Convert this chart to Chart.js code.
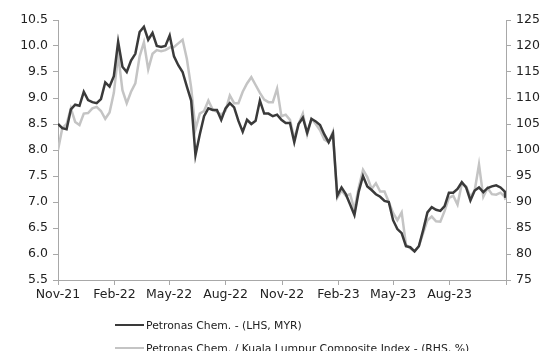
<!DOCTYPE html>
<html>
<head>
<meta charset="utf-8">
<script src="https://cdn.jsdelivr.net/npm/chart.js@4/dist/chart.umd.min.js"></script>
<style>
  html, body { margin: 0; padding: 0; background: #fff; }
  #wrap { position: relative; width: 555px; height: 351px; overflow: hidden; }
  #c { position: absolute; left: 0; top: 0; }
  .leg { position: absolute; left: 115px; height: 16px; font-family: "DejaVu Sans", sans-serif; font-size: 10.8px; color: #222; white-space: nowrap; display: flex; align-items: center; }
  .leg .ln { width: 29px; height: 2.5px; margin-right: 2px; }
</style>
</head>
<body>
<div id="wrap">
  <canvas id="c" width="555" height="351"></canvas>
  <div class="leg" style="top:317px"><span class="ln" style="background:#3a3a3a"></span><span id="l0"></span></div>
  <div class="leg" style="top:340px"><span class="ln" style="background:#c4c4c4"></span><span id="l1"></span></div>
</div>
<script>
const seriesNames = ["Petronas Chem. - (LHS, MYR)", "Petronas Chem. / Kuala Lumpur Composite Index - (RHS, %)"];

const dates = [
"2021-11-01","2021-11-08","2021-11-15","2021-11-22","2021-11-29","2021-12-06","2021-12-13","2021-12-20","2021-12-27",
"2022-01-03","2022-01-10","2022-01-17","2022-01-24","2022-01-31","2022-02-07","2022-02-14","2022-02-21","2022-02-28",
"2022-03-07","2022-03-14","2022-03-21","2022-03-28","2022-04-04","2022-04-11","2022-04-18","2022-04-25",
"2022-05-02","2022-05-09","2022-05-16","2022-05-23","2022-05-30","2022-06-06","2022-06-13","2022-06-20","2022-06-27",
"2022-07-04","2022-07-11","2022-07-18","2022-07-25","2022-08-01","2022-08-08","2022-08-15","2022-08-22","2022-08-29",
"2022-09-05","2022-09-12","2022-09-19","2022-09-26","2022-10-03","2022-10-10","2022-10-17","2022-10-24","2022-10-31",
"2022-11-07","2022-11-14","2022-11-21","2022-11-28","2022-12-05","2022-12-12","2022-12-19","2022-12-26",
"2023-01-02","2023-01-09","2023-01-16","2023-01-23","2023-01-30","2023-02-06","2023-02-13","2023-02-20","2023-02-27",
"2023-03-06","2023-03-13","2023-03-20","2023-03-27","2023-04-03","2023-04-10","2023-04-17","2023-04-24",
"2023-05-01","2023-05-08","2023-05-15","2023-05-22","2023-05-29","2023-06-05","2023-06-12","2023-06-19","2023-06-26",
"2023-07-03","2023-07-10","2023-07-17","2023-07-24","2023-07-31","2023-08-07","2023-08-14","2023-08-21","2023-08-28",
"2023-09-04","2023-09-11","2023-09-18","2023-09-25","2023-10-02","2023-10-09","2023-10-16","2023-10-23","2023-10-30","2023-10-31"
];

const price = [
8.50,8.42,8.40,8.78,8.87,8.85,9.12,8.96,8.92,8.90,
8.98,9.30,9.22,9.42,10.08,9.60,9.50,9.72,9.85,10.27,
10.37,10.12,10.25,10.00,9.98,10.00,10.20,9.80,9.63,9.50,
9.22,8.95,7.90,8.30,8.65,8.80,8.77,8.77,8.58,8.80,
8.90,8.82,8.56,8.35,8.58,8.50,8.56,8.95,8.70,8.70,
8.65,8.68,8.58,8.52,8.52,8.15,8.50,8.62,8.33,8.60,
8.55,8.48,8.30,8.15,8.32,7.12,7.28,7.15,6.95,6.75,
7.20,7.50,7.30,7.23,7.15,7.10,7.02,7.00,6.65,6.48,
6.40,6.15,6.13,6.05,6.15,6.46,6.80,6.90,6.85,6.83,
6.92,7.18,7.18,7.25,7.38,7.28,7.03,7.22,7.28,7.19,
7.27,7.30,7.32,7.28,7.20,7.08
];

const relative = [
100.0,104.2,105.0,108.0,105.4,104.8,107.0,107.1,108.0,108.3,
107.5,106.0,107.2,111.0,118.3,111.5,109.0,111.2,112.8,118.0,
120.7,115.5,118.5,119.2,119.0,119.2,119.7,119.8,120.5,121.2,
117.5,112.0,104.0,107.0,107.5,109.5,107.8,107.3,106.8,107.6,
110.5,109.0,109.0,111.2,112.8,114.0,112.5,111.0,109.7,109.2,
109.2,111.8,106.5,106.8,105.8,102.2,105.0,107.0,103.0,106.0,
105.0,103.8,102.0,101.5,103.5,90.8,92.2,91.2,91.5,88.5,
92.8,96.2,94.8,92.5,93.6,92.0,92.0,90.0,87.9,86.5,
88.0,81.8,81.1,80.5,81.5,84.0,86.5,87.2,86.3,86.2,
88.3,90.8,91.2,89.5,93.5,93.0,91.0,92.2,97.2,91.0,
92.7,91.5,91.4,91.8,91.0,90.4
];

const tickDates = ["2021-11-01","2022-02-01","2022-05-01","2022-08-01","2022-11-01","2023-02-01","2023-05-01","2023-08-01","2023-11-01"];
const tickLabels = ["Nov-21","Feb-22","May-22","Aug-22","Nov-22","Feb-23","May-23","Aug-23",""];

const DAY = 86400000;
const t0 = Date.parse(dates[0]);
const dayOf = d => (Date.parse(d) - t0) / DAY;
const tickDays = tickDates.map(dayOf);

document.getElementById('l0').textContent = seriesNames[0];
document.getElementById('l1').textContent = seriesNames[1];

const font = { family: "DejaVu Sans", size: 12.5 };
const axisColor = '#a8a8a8';
const txt = '#222';

new Chart(document.getElementById('c'), {
  type: 'line',
  data: {
    datasets: [
      { label: seriesNames[0], data: dates.map((d, i) => ({ x: dayOf(d), y: price[i] })), yAxisID: 'y',
        borderColor: '#3a3a3a', borderWidth: 2.5, pointRadius: 0, tension: 0, fill: false },
      { label: seriesNames[1], data: dates.map((d, i) => ({ x: dayOf(d), y: relative[i] })), yAxisID: 'y1',
        borderColor: '#c4c4c4', borderWidth: 2.5, pointRadius: 0, tension: 0, fill: false }
    ]
  },
  options: {
    responsive: false,
    animation: false,
    layout: { padding: { top: 20, left: 0, right: 0, bottom: 0 } },
    plugins: { legend: { display: false }, tooltip: { enabled: false } },
    scales: {
      x: {
        type: 'linear', min: tickDays[0], max: tickDays[tickDays.length - 1],
        afterBuildTicks: s => { s.ticks = tickDays.map(v => ({ value: v })); },
        afterFit: s => { s.height = 71; },
        ticks: { callback: (v, i) => tickLabels[i], autoSkip: false, maxRotation: 0, font, color: txt, padding: 2 },
        grid: { drawOnChartArea: false, drawTicks: true, tickLength: 5, color: axisColor },
        border: { color: axisColor, width: 1 }
      },
      y: {
        position: 'left', min: 5.5, max: 10.5,
        afterFit: s => { s.width = 58; },
        ticks: { stepSize: 0.5, callback: v => Number(v).toFixed(1), font, color: txt, padding: 5 },
        grid: { drawOnChartArea: false, drawTicks: true, tickLength: 5, color: axisColor },
        border: { color: axisColor, width: 1 }
      },
      y1: {
        position: 'right', min: 75, max: 125,
        afterFit: s => { s.width = 49; },
        ticks: { stepSize: 5, font, color: txt, padding: 5 },
        grid: { drawOnChartArea: false, drawTicks: true, tickLength: 5, color: axisColor },
        border: { color: axisColor, width: 1 }
      }
    }
  }
});
</script>
</body>
</html>
